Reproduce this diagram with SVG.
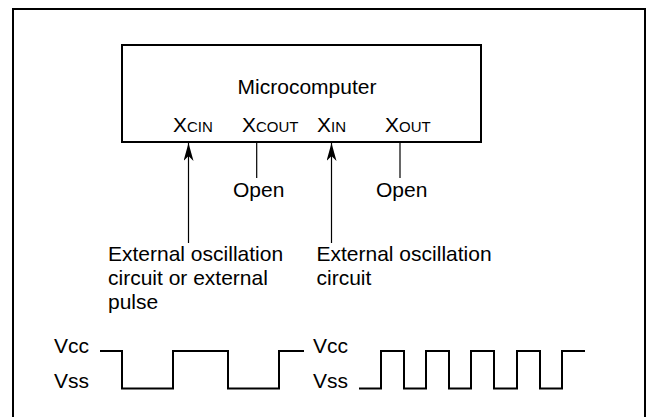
<svg xmlns="http://www.w3.org/2000/svg" width="648" height="417" viewBox="0 0 648 417">
<style>
text{font-family:"Liberation Sans",Arial,sans-serif;font-size:21px;fill:#000}
.sub{font-size:15px}
.frame{fill:none;stroke:#000;stroke-width:2}
.ln{fill:none;stroke:#000;stroke-width:1.2}
.wave{fill:none;stroke:#000;stroke-width:2}
</style>
<defs>
<marker id="ah" markerWidth="18" markerHeight="10" refX="18" refY="5" orient="auto" markerUnits="userSpaceOnUse" viewBox="0 0 18 10">
<path d="M18,5 L0,0 L5,5 L0,10 Z" fill="#000"/>
</marker>
</defs>
<rect width="648" height="417" fill="#fff"/>
<path class="frame" d="M13,430 V9 H645 V430"/>
<g id="microcomputer">
<rect class="frame" x="122" y="45" width="359" height="97" fill="#fff"/>
<text x="307" y="94" text-anchor="middle">Microcomputer</text>
<text x="173" y="132">X<tspan class="sub">CIN</tspan></text>
<text x="242" y="132">X<tspan class="sub">COUT</tspan></text>
<text x="317" y="132">X<tspan class="sub">IN</tspan></text>
<text x="385" y="132">X<tspan class="sub">OUT</tspan></text>
</g>
<g id="connectors">
<line class="ln" x1="188.5" y1="243" x2="188.5" y2="143" marker-end="url(#ah)"/>
<line class="ln" x1="331.5" y1="243" x2="331.5" y2="143" marker-end="url(#ah)"/>
<line class="ln" x1="256.7" y1="143" x2="256.7" y2="178"/>
<line class="ln" x1="400" y1="143" x2="400" y2="178"/>
</g>
<g id="open1"><text x="233" y="197">Open</text></g>
<g id="open2"><text x="376" y="197">Open</text></g>
<g id="ext1">
<text x="108" y="261">External oscillation</text>
<text x="108" y="285">circuit or external</text>
<text x="108" y="309">pulse</text>
</g>
<g id="ext2">
<text x="316.5" y="261">External oscillation</text>
<text x="316.5" y="285">circuit</text>
</g>
<g id="wave1">
<text x="54" y="353">Vcc</text>
<text x="54" y="388">Vss</text>
<path class="wave" d="M100,351 H122 V388.5 H173 V351 H228 V388.5 H279 V351 H304"/>
</g>
<g id="wave2">
<text x="313" y="353">Vcc</text>
<text x="313" y="388">Vss</text>
<path class="wave" d="M359,388.5 H381 V351 H404 V388.5 H426 V351 H449 V388.5 H471 V351 H494 V388.5 H517 V351 H540 V388.5 H562 V351 H585"/>
</g>
</svg>
